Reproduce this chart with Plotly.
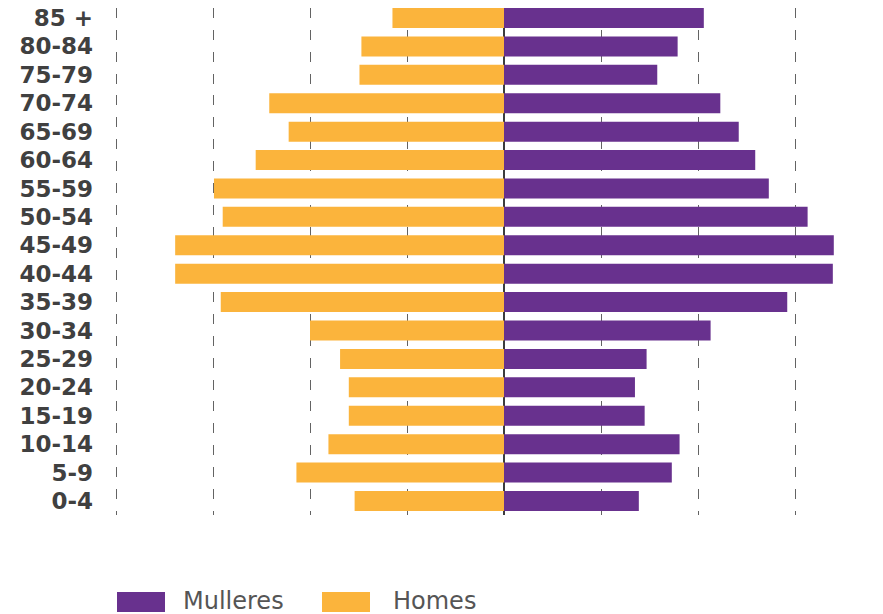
import plotly.graph_objects as go

# Age groups, bottom to top
age_groups = ["0-4", "5-9", "10-14", "15-19", "20-24", "25-29", "30-34", "35-39",
              "40-44", "45-49", "50-54", "55-59", "60-64", "65-69", "70-74",
              "75-79", "80-84", "85 +"]

# Values in grid units, same order as age_groups
mulleres = [1.39, 1.73, 1.81, 1.45, 1.35, 1.47, 2.13, 2.92,
            3.39, 3.40, 3.13, 2.73, 2.59, 2.42, 2.23, 1.58, 1.79, 2.06]
homes = [1.54, 2.14, 1.81, 1.60, 1.60, 1.69, 2.00, 2.92,
         3.39, 3.39, 2.90, 2.99, 2.56, 2.22, 2.42, 1.49, 1.47, 1.15]

PURPLE = "#68318E"
YELLOW = "#FBB43C"

# The page body adds an 8px offset, so the figure is 8px smaller than the window
W, H = 875, 606
ML, MR, MT, MB = 86, 0, 0, 99
UNIT = 97.0        # px per grid unit
ZERO_PX = 496.0    # x pixel of zero within figure
ROW = 28.41        # px per category row
TOP_CENTER = 10.0  # y pixel of top bar centre within figure

plot_w = W - ML - MR
plot_h = H - MT - MB
n = len(age_groups)

x_left = -(ZERO_PX - ML) / UNIT
x_right = (W - MR - ZERO_PX) / UNIT
y_hi = (n - 1) + (TOP_CENTER - MT) / ROW
y_lo = y_hi - plot_h / ROW

fig = go.Figure()
fig.add_trace(go.Bar(y=list(range(n)), x=[-v for v in homes], orientation="h",
                     name="Homes", marker=dict(color=YELLOW, line=dict(width=0)),
                     showlegend=False, width=0.704))
fig.add_trace(go.Bar(y=list(range(n)), x=mulleres, orientation="h",
                     name="Mulleres", marker=dict(color=PURPLE, line=dict(width=0)),
                     showlegend=False, width=0.704))

fig.update_layout(
    width=W, height=H,
    margin=dict(l=ML, r=MR, t=MT, b=MB, pad=0, autoexpand=False),
    barmode="overlay",
    plot_bgcolor="white", paper_bgcolor="white",
    xaxis=dict(range=[x_left, x_right], tick0=0, dtick=1, showticklabels=False,
               showgrid=True, gridcolor="rgba(60,60,60,0.8)", gridwidth=1,
               griddash="10px,11.86px",
               zeroline=True, zerolinecolor="#3c3c3c", zerolinewidth=2,
               showline=False, layer="above traces", fixedrange=True,
               automargin=False),
    yaxis=dict(range=[y_lo, y_hi], tickmode="array",
               tickvals=list(range(n)), ticktext=age_groups,
               showgrid=False, zeroline=False, showline=False, ticks="",
               ticklabelstandoff=0, ticklabeloverflow="allow",
               tickfont=dict(family="DejaVu Sans", size=23, color="#404040",
                             weight="bold"),
               fixedrange=True, automargin=False),
    font=dict(family="DejaVu Sans"),
)

# Custom legend (wide swatches as in the reference)
def px_x(p):
    return (p - ML) / plot_w

def px_y(p):
    return (H - MB - p) / plot_h

legend_items = [("Mulleres", PURPLE, 109, 173), ("Homes", YELLOW, 314, 383)]
for label, color, sx, tx in legend_items:
    fig.add_shape(type="rect", xref="paper", yref="paper",
                  x0=px_x(sx), x1=px_x(sx + 48), y0=px_y(604), y1=px_y(584),
                  fillcolor=color, line=dict(width=0))
    fig.add_annotation(text=label, xref="paper", yref="paper",
                       x=px_x(tx), y=px_y(593), xanchor="left", yanchor="middle",
                       showarrow=False,
                       font=dict(family="DejaVu Sans", size=24, color="#555555"))

fig.write_html("out.html")
